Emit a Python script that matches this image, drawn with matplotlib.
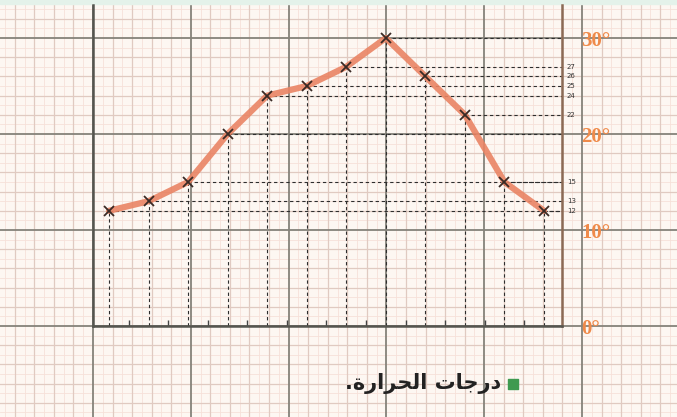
import numpy as np
import matplotlib
matplotlib.use("Agg")
import matplotlib.pyplot as plt

# monthly temperatures
months = np.arange(1, 13)
temps = [12, 13, 15, 20, 24, 25, 27, 30, 26, 22, 15, 12]

major_ticks = [0, 10, 20, 30]
major_labels = ["0°", "10°", "20°", "30°"]

caption = "درجات الحرارة."
# matplotlib does no arabic shaping, so the caption is written out in
# presentation forms, in visual (left to right) order
caption_shaped = ".\ufe93\ufead\ufe8d\ufeae\ufea4\ufedf\ufe8d \ufe95\ufe8e\ufe9f\ufead\ufea9"

W, H = 677, 417
fig = plt.figure(figsize=(W / 100, H / 100), dpi=100)
fig.patch.set_facecolor("#fdf7f2")

# graph paper background, in pixel units
bg = fig.add_axes([0, 0, 1, 1])
bg.set_xlim(0, W)
bg.set_ylim(H, 0)
bg.axis("off")

def paper_style(k):
    if k % 10 == 0:
        return dict(color="#85827a", lw=1.3, zorder=2)
    if k % 2 == 0:
        return dict(color="#e0cac1", lw=0.9, zorder=1)
    return dict(color="#f6e1d9", lw=0.6, zorder=0)

for k in range(-12, 62):
    x = 93 + k * 9.78
    if 0 <= x <= W:
        bg.axvline(x, **paper_style(k))
for k in range(-12, 40):
    y = 326 - k * 9.6
    if 0 <= y <= H:
        bg.axhline(y, **paper_style(k))

# light strip along the top edge of the scan
bg.axhspan(0, 4, color="#e4f2ea", zorder=3)

# main chart
ax = fig.add_axes([93 / W, (H - 326) / H, (562 - 93) / W, (326 - 5) / H])
ax.set_facecolor("none")
xmin, xmax = 1 - 16 / 39.5, 12 + 18 / 39.5
ax.set_xlim(xmin, xmax)
ax.set_ylim(0, (326 - 5) / 9.6)

# dashed guide lines from each point to both axes
ax.vlines(months, 0, temps, colors="#2e2e2e", linestyles=(0, (3, 2.5)), lw=0.8, zorder=2)
ax.hlines(temps, months, xmax, colors="#2e2e2e", linestyles=(0, (3, 2.5)), lw=0.8, zorder=2)

ax.plot(months, temps, color="#ea8464", lw=4.5, alpha=0.9, solid_capstyle="round",
        solid_joinstyle="round", zorder=3)
ax.plot(months, temps, "x", color="#3a2a25", ms=7, mew=1.3, zorder=4)

for side in ["left", "bottom"]:
    ax.spines[side].set_color("#55554f")
    ax.spines[side].set_linewidth(1.8)
ax.spines["right"].set_color("#8b6a55")
ax.spines["right"].set_linewidth(1.8)
ax.spines["top"].set_visible(False)

ax.set_xticks(months[:-1] + 0.5)
ax.tick_params(axis="x", direction="in", length=4, width=1, color="#444444",
               labelbottom=False)

ax.yaxis.tick_right()
ax.set_yticks(major_ticks, major_labels)
ax.tick_params(axis="y", length=0, pad=14, labelcolor="#ef8a4a", labelsize=15)
for lab in ax.get_yticklabels():
    lab.set_fontfamily("Liberation Serif")
    lab.set_fontweight("bold")

# small value labels next to the right axis
for v in sorted(set(temps) - set(major_ticks)):
    ax.text(xmax + 0.12, v, str(v), fontsize=5, va="center", ha="left",
            color="#333333", clip_on=False)

# caption with green bullet
bg.scatter([513], [384], marker="s", s=50, color="#3f9a50", zorder=5)
bg.text(501, 384, caption_shaped, ha="right", va="center", fontsize=15,
        fontweight="bold", fontfamily="DejaVu Sans", color="#222222", zorder=5)

fig.savefig("out.png", dpi=100, facecolor=fig.get_facecolor())
